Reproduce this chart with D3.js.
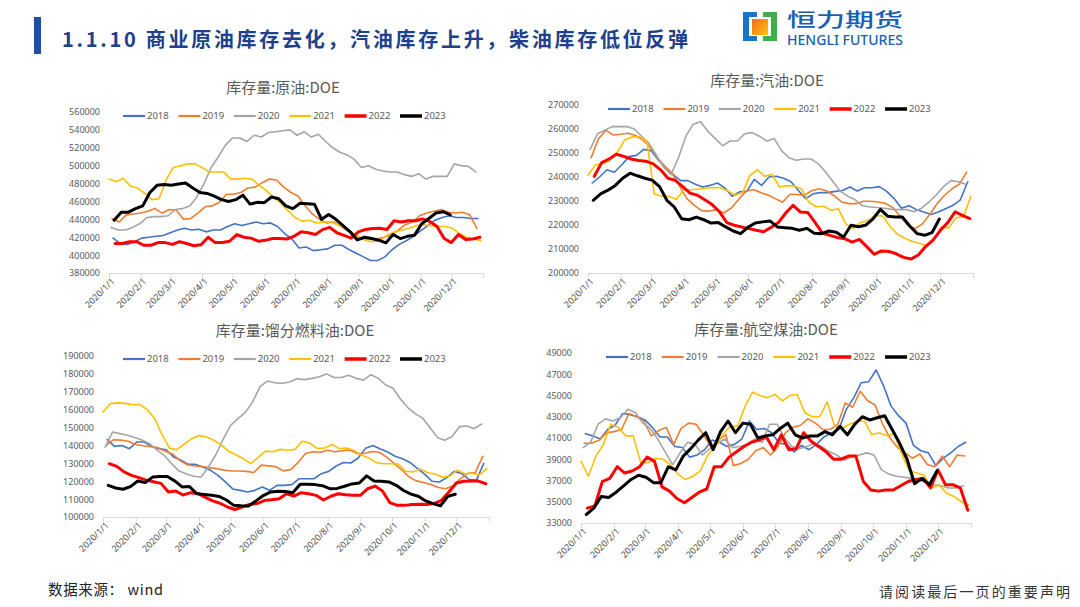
<!DOCTYPE html>
<html><head><meta charset="utf-8">
<script src="https://cdn.jsdelivr.net/npm/d3@7"></script>
<style>body{margin:0;background:#fff;} svg{display:block;}</style>
</head><body>
<svg id="c" width="1080" height="607"></svg>
<script>
// ---------------- DATA ----------------
const years = ["2018","2019","2020","2021","2022","2023"];
// first weekly date of each year, mapped onto 2020 calendar
const seriesStart = ["2020-01-05","2020-01-04","2020-01-03","2020-01-01","2020-01-07","2020-01-06"];
const monthTicks = ["2020-01-01","2020-02-01","2020-03-01","2020-04-01","2020-05-01","2020-06-01","2020-07-01","2020-08-01","2020-09-01","2020-10-01","2020-11-01","2020-12-01","2021-01-01"];
const monthLabels = ["2020/1/1","2020/2/1","2020/3/1","2020/4/1","2020/5/1","2020/6/1","2020/7/1","2020/8/1","2020/9/1","2020/10/1","2020/11/1","2020/12/1",""];
const UNIT = 1000; // values below are in thousand barrels

const panelTitles = ["库存量:原油:DOE","库存量:汽油:DOE","库存量:馏分燃料油:DOE","库存量:航空煤油:DOE"];
const crudeTicks = [380000,400000,420000,440000,460000,480000,500000,520000,540000,560000];
const gasTicks = [200000,210000,220000,230000,240000,250000,260000,270000];
const distTicks = [100000,110000,120000,130000,140000,150000,160000,170000,180000,190000];
const jetTicks = [33000,35000,37000,39000,41000,43000,45000,47000,49000];

// crude oil
const crude2018 = [419,413,412,415,419,420,421,422,425,428,430,428,429,426,428,428,432,435,433,435,437,435,436,432,424,418,408,409,405,406,407,411,411,406,402,398,394,394,398,406,412,416,421,427,433,439,442,444,442,442,441,441];
const crude2019 = [441,437,445,446,447,449,452,447,451,450,440,441,447,454,455,459,468,468,470,475,476,481,485,484,476,470,466,455,446,440,436,437,432,427,421,418,418,418,420,422,428,434,437,444,447,449,451,448,447,448,445,430];
const crude2020 = [431,428,428,431,435,442,443,443,444,451,452,455,465,480,498,510,523,531,531,527,534,532,537,538,539,540,534,538,532,535,527,520,515,512,507,498,500,496,494,493,493,490,488,491,485,488,488,488,502,500,499,493];
const crude2021 = [485,482,486,477,475,469,462,463,484,498,500,502,502,498,493,493,493,485,485,486,485,478,472,465,458,450,442,438,439,436,437,437,434,430,425,420,416,415,417,423,426,428,430,433,434,433,432,432,430,424,420,418,416];
const crude2022 = [413,413,415,415,411,411,414,414,412,415,413,410.5,411.5,420,414,414,415.5,423,420,419,415.5,416.5,418.5,418.5,418,421,426,425,423,428.5,431,425,422,419,426,428.6,429.8,430,428.6,438.4,437,438.5,438.5,440.5,437.5,432,418.5,414,423,417.5,418,420];
const crude2023 = [439,448,448,452,455,470,478,479,478,479.5,480.5,475,470,469,466,462,460,462,467,457,459,458.6,465,463,455,452,458,457.5,457,440,445.5,440,433,426,417,420,418.5,416.7,413.7,423,418.5,421,422.3,435,441,447,448.5,445];

// gasoline
const gas2018 = [237.5,240,243,242,245,248.5,249,251.5,251,247,244,241,238.5,238.5,237,235.8,236.5,237.5,235.5,232,233.8,234,239,236.5,240,240.3,239.5,238,234.4,231,233,233.5,233.5,234,234.4,235.8,234.2,235.5,235.5,236,234,231,227,228,226.5,225.4,224.4,225.4,226.8,228.2,230.5,238];
const gas2019 = [248,256,259.4,257.5,257.8,258.2,257.3,255.5,252.5,248,244.5,241.5,236.3,231,228.2,226,225.8,226.4,225,227,230.5,234,234.8,233.5,232.5,231,229.5,232.8,232.7,232.4,234.4,235.1,234.2,232.2,229.6,228.9,228.9,229.9,229.9,229.6,228.9,227.2,223.5,220,218.5,220.5,224.5,229,232.4,235.1,237,242];
const gas2020 = [251.5,258,259.5,261,261,261,260,257,254,249,244,241,248,257,262,263,259,256,253,255,255,258,258.5,257,255,256,251,248,247,247.5,247.5,245.5,242,238,234,232,230.5,228,227.5,227.3,227,226.5,226.4,226.4,225.5,227,229.5,232.5,236,238.5,238,237];
const gas2021 = [240.7,245,245.5,247,250.5,255.5,256.7,256.7,255,233,232,232,230.6,234.7,234.7,235,235.3,235.6,235.5,234.2,232.4,233.5,240.7,243,240.3,241.1,235.8,236.4,236.3,235,229.5,227.6,227.8,226.1,226.8,220.5,218.5,221,221.8,224,223.8,219.5,216.2,214.5,213.2,212.3,211.5,213.8,219.2,218.8,223,223.5,232];
const gas2022 = [240.3,246,247.5,249.5,248.6,247.5,246.9,246.6,245.5,243,239.5,238.6,236,233.3,232.4,230.5,228.5,225.5,221,219.9,219.2,218.5,217.8,217.2,219,221,225,228.2,225.4,225.2,221,216.5,215.7,214.8,214.3,212.9,214,211,207.8,209.2,209,208,206.5,205.8,207.5,211,213.7,217.8,221,225.5,224,222.7];
const gas2023 = [230.3,233,234.5,236.5,239.5,241.6,240.5,239.5,238.7,236,230.3,227.5,222.6,222.2,223.3,222.2,220.8,221,219.2,217.5,216.4,219,220.8,221.3,221.7,219.2,218.9,218.6,217.8,218.6,216.6,216.4,217.5,217,215,219.9,219.3,219.9,222.6,226.5,223.6,223.3,223.3,219.5,216.4,215.7,216.8,222.5];

// distillate fuel oil
const dist2018 = [143.2,139.5,140,138.2,141.9,141.9,139.5,138.2,137.6,133.5,131.7,129.4,129.4,128,126.1,123.3,119.6,115.7,114.9,114,114.9,116.8,114.9,117.7,117.7,118.1,121.4,121.4,121.4,124.2,125.5,128.5,130.5,130.2,133,138.5,140,138,136.3,134,132.6,130.5,127.2,124,120,119.6,122,125.5,124.3,121,120.5,130];
const dist2019 = [140.1,143.2,143,142.3,140.5,139.8,139.3,138.8,136.7,135.2,131.5,129.2,128.5,128.2,127.6,127,126.2,125.7,125.7,125.5,124.9,129,128.6,128.1,125.8,126.5,130.5,135.5,136.5,136.2,137.3,136.5,137,137.5,135.5,135.5,136.6,136.2,133.5,130,126.5,122.5,120.2,119.3,118.2,116.5,115.8,117.5,121.5,124.4,124.8,133.9];
const dist2020 = [139,147.5,146.6,145.7,144.5,143,141,137.5,134.5,129.8,125.8,124,122.8,122.4,128,134.8,143.5,151.2,155,158.5,164.5,173,176,175,174.8,175.5,177.3,176.8,177.5,178.4,180,178,178,179.2,177.5,176.5,179.6,177.5,173.8,172,166,161.2,157.8,155.3,150,144.5,142.9,145,150.5,150.9,149.4,152];
const dist2021 = [158.7,163.4,163.8,163.5,162.8,162.8,160,155,146,138.5,137.6,140.8,143.8,145.5,144.8,142.9,140.3,136.8,134.8,132.6,129.8,133.2,136.8,136.5,137.8,137.3,137.8,142.3,141.3,138.3,138.5,140.5,138.3,138.6,137.2,134.6,133,130.5,129.8,129.8,129.6,125.6,125.2,126.8,124.7,124,122.2,123,126.2,124.2,124.5,123.5,127];
const dist2022 = [129.8,128.3,125.2,123.3,122,120.6,119.7,118.8,114,114.5,112.3,113.6,113.2,111,109,107.7,105.6,104.2,105.6,107,107.5,109.2,109.7,110.2,113,111.7,113.6,113,112.1,109.5,111.6,113,112.5,112.1,112.1,115.8,117.3,114.5,108,106.5,106.5,107,107.1,107,107.6,109.3,114,119,120,120.1,120.1,118.6];
const dist2023 = [117.7,116.2,115.5,117,120.1,119.2,122.3,122.7,122.6,120.2,116.8,117,113,112.6,112.2,111.5,109.5,106.5,106.3,106.2,109,112,114,114.4,114.2,113.5,118.3,118.3,118.1,117.5,115.8,116,117.2,118.5,119,123,120.1,120,119.6,117.7,114.8,112.8,111.6,109,107.5,106.3,111.5,112.7];

// jet fuel
const jet2018 = [41.4,41.2,40.9,41.8,42.2,43.3,43.2,43,42.7,42,41.1,41.1,40.2,40.1,39.2,39.4,39.9,40.8,40.6,40.2,40.4,40.9,42.6,41.8,41.9,41.5,40.5,40.4,39.7,40.3,39.9,40.4,41.1,41.5,41.8,43.7,44.8,46.2,46.3,47.4,45.9,44,43.1,42.4,40.3,39.8,39.6,38.4,39.1,39.6,40.2,40.6];
const jet2019 = [40.5,40.5,40.8,41.5,41.6,41.8,43.3,43,42.6,41.2,41.7,42,40.4,41.9,42.4,42.3,41.3,40.2,40.8,41.3,38.4,38.6,39,39.8,40.1,39.4,40.2,41.5,42,42.2,42.8,42.4,41.8,41.8,42.3,44.3,43.9,45.4,44.5,44.1,42.3,41,40.1,39.6,39.1,39.5,38.5,38.3,39.3,38.3,39.4,39.3];
const jet2020 = [40.1,40.6,42.3,42.8,42.6,42.9,43.7,43.4,42.4,41.9,40.9,39.7,38.5,39.6,40.6,40.4,39.4,40,40.5,40.9,40.1,40.2,40.4,40.9,40.6,42.3,42.3,41,40.2,40,40.2,40.5,40.2,39.7,39.4,38.9,39.2,39.4,39.6,39.4,38,37.6,37.4,37.3,37.2,37,36.8,36.6,36.5,36.3,36.3,36.5];
const jet2021 = [38.8,37.4,39.3,40.4,42.3,42,41.2,41.2,38.7,38.7,39.1,39,38.5,37.6,37.1,37.4,37.9,39.4,40.2,41.3,42.1,42.1,44,45.3,45,44.8,45.1,44.5,45,45.1,43.4,43,43,44.4,42.1,41.9,42.3,42.6,42.6,41.3,41.5,41.2,41.4,39.5,37.9,37.7,37.5,36.3,36.6,35.8,35.5,35,34.7];
const jet2022 = [34.4,34.6,36.9,37.2,38.3,37.7,37.9,38.3,39.2,38.8,36.4,36,35.3,34.9,35.4,35.9,36.2,38.3,38.3,39.2,39.7,40.2,40.6,40.8,41.1,39.9,41.3,39.9,40,41.5,40.7,40.2,39.7,39,39,39.3,39.3,36.9,36.1,36,36.1,36.1,36.5,36.9,37.1,37.2,36.3,38,36.6,36.6,36.3,34.2];
const jet2023 = [33.8,34.4,35.5,35.4,35.9,36.5,37.1,37.5,37.3,36.8,36.8,38.3,38,39.3,40,40.8,41.5,39.9,41.6,42.6,41.5,42.4,42.3,41,41.2,41.3,41.9,42.4,41.3,41,41.2,41.2,41.6,41.3,42.1,41.3,42.3,43,42.7,42.9,43.1,41.8,40.5,39,36.7,37.2,36.6,37.9];

// ---------------- STYLE / LAYOUT ----------------
const colors = ["#4472C4","#ED7D31","#A5A5A5","#FFC000","#FF0000","#000000"];
const widths = [1.6,1.6,1.6,1.6,3,3];
const legWidths = [2.2,2.2,2.2,2.2,3.5,3.5];
const layout = [
  {x0:109,x1:483,yTop:112,yBot:273,titleX:283,titleY:88,legX:123,legY:116,legStep:55.4},
  {x0:588,x1:973,yTop:105,yBot:273,titleX:767,titleY:81,legX:608,legY:109,legStep:55.4},
  {x0:103,x1:489,yTop:356,yBot:517,titleX:295,titleY:331,legX:123,legY:359,legStep:55.4},
  {x0:581,x1:971,yTop:353,yBot:523,titleX:766,titleY:330,legX:606,legY:357,legStep:55.8}
];
const panelSeries = [
  [crude2018,crude2019,crude2020,crude2021,crude2022,crude2023],
  [gas2018,gas2019,gas2020,gas2021,gas2022,gas2023],
  [dist2018,dist2019,dist2020,dist2021,dist2022,dist2023],
  [jet2018,jet2019,jet2020,jet2021,jet2022,jet2023]
];
const panelTicks = [crudeTicks,gasTicks,distTicks,jetTicks];

const parse = d3.timeParse("%Y-%m-%d");
const svg = d3.select("#c");
const TXT = "#595959";
const LAT = "'Noto Sans','DejaVu Sans',sans-serif";
const CJK = "'Noto Sans CJK SC','Noto Sans',sans-serif";

// ---------------- HEADER ----------------
svg.append("rect").attr("x",34).attr("y",17).attr("width",7).attr("height",37).attr("fill","#1F4FA0");
svg.append("text").attr("x",62).attr("y",47)
  .attr("font-family",CJK).attr("font-weight",700).attr("font-size",20)
  .attr("fill","#203F8C").attr("textLength",626).attr("lengthAdjust","spacing")
  .text("1.1.10 商业原油库存去化，汽油库存上升，柴油库存低位反弹");

// logo
const defs = svg.append("defs");
const grad = defs.append("linearGradient").attr("id","og").attr("x1","0").attr("y1","0").attr("x2","1").attr("y2","1");
grad.append("stop").attr("offset","0%").attr("stop-color","#F26B1D");
grad.append("stop").attr("offset","100%").attr("stop-color","#FDC311");
const lg = svg.append("g");
// left bracket (blue)
lg.append("rect").attr("x",743).attr("y",12).attr("width",6).attr("height",29).attr("fill","#1A73C9");
lg.append("rect").attr("x",743).attr("y",12).attr("width",14).attr("height",5).attr("fill","#1A73C9");
lg.append("rect").attr("x",743).attr("y",36).attr("width",14).attr("height",5).attr("fill","#1A73C9");
// right bracket (green)
lg.append("rect").attr("x",771).attr("y",12).attr("width",6).attr("height",29).attr("fill","#3FAE4A");
lg.append("rect").attr("x",763).attr("y",12).attr("width",14).attr("height",5).attr("fill","#3FAE4A");
lg.append("rect").attr("x",763).attr("y",36).attr("width",14).attr("height",5).attr("fill","#3FAE4A");
// orange core
lg.append("rect").attr("x",752).attr("y",19).attr("width",16).attr("height",16).attr("fill","url(#og)");
lg.append("text").attr("x",787).attr("y",26.7).attr("font-family",CJK).attr("font-weight",500)
  .attr("font-size",19).attr("fill","#1B5DB5").attr("textLength",116).attr("lengthAdjust","spacingAndGlyphs").text("恒力期货");
lg.append("text").attr("x",787).attr("y",44.5).attr("font-family",LAT).attr("font-weight",500)
  .attr("font-size",13.5).attr("fill","#1B5DB5").attr("textLength",116).attr("lengthAdjust","spacingAndGlyphs").text("HENGLI FUTURES");

// ---------------- PANELS ----------------
layout.forEach((L,pi) => {
  const g = svg.append("g");
  const ticks = panelTicks[pi];
  const x = d3.scaleTime().domain([parse("2020-01-01"),parse("2021-01-01")]).range([L.x0,L.x1]);
  const y = d3.scaleLinear().domain([d3.min(ticks),d3.max(ticks)]).range([L.yBot,L.yTop]);

  // title
  g.append("text").attr("x",L.titleX).attr("y",L.titleY+5).attr("text-anchor","middle")
    .attr("font-family",CJK).attr("font-size",15).attr("fill",TXT).text(panelTitles[pi]);

  // y labels
  const yAx = d3.axisLeft(y).tickValues(ticks).tickSize(0).tickPadding(9).tickFormat(d3.format("d"));
  const ya = g.append("g").attr("transform",`translate(${L.x0},0)`).call(yAx);
  ya.select(".domain").remove();
  ya.selectAll("text").attr("font-family",LAT).attr("font-size",9).attr("fill",TXT);

  // x axis
  const xt = monthTicks.map(parse);
  const xAx = d3.axisBottom(x).tickValues(xt).tickSize(5).tickFormat((d,i)=>monthLabels[i]);
  const xa = g.append("g").attr("transform",`translate(0,${L.yBot})`).call(xAx);
  xa.select(".domain").attr("stroke","#D9D9D9");
  xa.selectAll(".tick line").attr("stroke","#D9D9D9");
  xa.selectAll("text").attr("font-family",LAT).attr("font-size",9).attr("fill","#505050")
    .attr("text-anchor","end").attr("dy",null)
    .attr("transform","translate(3,6) rotate(-45)").attr("y",4).attr("x",0);

  // lines
  const line = d3.line().x(d=>x(d.date)).y(d=>y(d.v*UNIT));
  panelSeries[pi].forEach((vals,si) => {
    const s = parse(seriesStart[si]);
    const pts = vals.map((v,i)=>({date:d3.timeDay.offset(s,7*i),v}));
    g.append("path").datum(pts).attr("d",line).attr("fill","none")
      .attr("stroke",colors[si]).attr("stroke-width",widths[si])
      .attr("stroke-linejoin","round").attr("stroke-linecap","round");
  });

  // legend
  years.forEach((yr,si) => {
    const lx = L.legX + si*L.legStep;
    g.append("line").attr("x1",lx).attr("x2",lx+22).attr("y1",L.legY).attr("y2",L.legY)
      .attr("stroke",colors[si]).attr("stroke-width",legWidths[si]);
    g.append("text").attr("x",lx+24).attr("y",L.legY+3.3).attr("font-family",LAT)
      .attr("font-size",9.5).attr("fill",TXT).text(yr);
  });
});

// ---------------- FOOTER ----------------
svg.append("text").attr("x",48).attr("y",595).attr("font-family",CJK).attr("font-size",14.5)
  .attr("fill","#222").attr("textLength",115).attr("lengthAdjust","spacing").text("数据来源： wind");
svg.append("text").attr("x",879).attr("y",597).attr("font-family",CJK).attr("font-size",14)
  .attr("fill","#333").attr("textLength",191).attr("lengthAdjust","spacing").text("请阅读最后一页的重要声明");
</script>
</body></html>
